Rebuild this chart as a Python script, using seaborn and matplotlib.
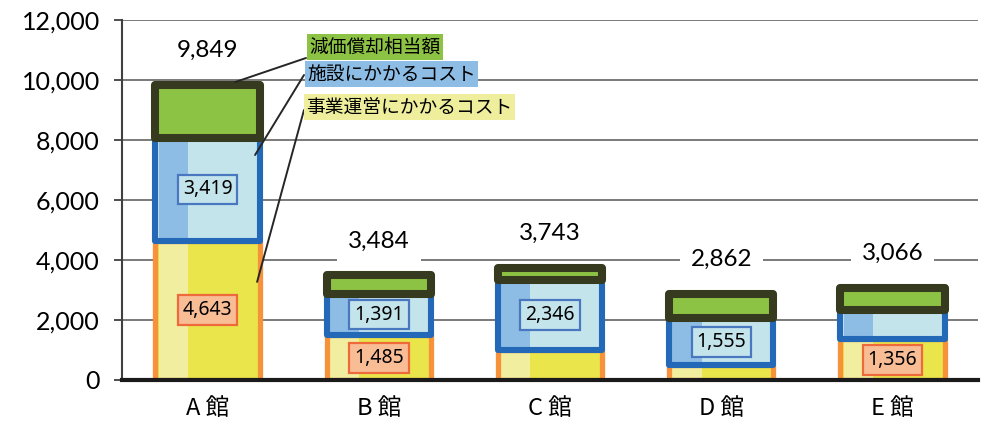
import numpy as np
import matplotlib
matplotlib.use("Agg")
import matplotlib.pyplot as plt
import seaborn as sns

# ---- data ----
facilities = ["A 館", "B 館", "C 館", "D 館", "E 館"]
operating_cost = [4643, 1485, 1000, 500, 1356]   # 事業運営にかかるコスト
facility_cost = [3419, 1391, 2346, 1555, 980]    # 施設にかかるコスト
depreciation = [1787, 608, 397, 807, 730]        # 減価償却相当額
totals = [9849, 3484, 3743, 2862, 3066]
show_facility_label = [True, True, True, True, False]
show_operating_label = [True, True, False, False, True]
series_names = ["減価償却相当額", "施設にかかるコスト", "事業運営にかかるコスト"]

# ---- style ----
sns.set_theme(style="white")
plt.rcParams["font.family"] = ["Lato", "Noto Sans CJK JP", "DejaVu Sans"]
plt.rcParams["text.color"] = "black"
plt.rcParams["xtick.color"] = "black"
plt.rcParams["ytick.color"] = "black"

fig = plt.figure(figsize=(9.81, 4.30), dpi=100)
ax = fig.add_axes([0.1244, 0.1163, 0.8726, 0.8372])

bar_w = 0.61
x = np.arange(len(facilities))
op = np.array(operating_cost)
fac = np.array(facility_cost)
dep = np.array(depreciation)

# segment: (heights, bottoms, main face, left strip, edge, edge width)
segments = [
    (op, np.zeros(5), "#E9E54B", "#F1EEA0", "#F7923A", 3.8),
    (fac, op, "#C4E4EC", "#8DBCE5", "#2369B7", 4.4),
    (dep, op + fac, "#8DC344", None, "#363A1F", 5.8),
]

for heights, bottoms, face, strip, edge, lw in segments:
    sns.barplot(x=facilities, y=heights, bottom=bottoms, color=face,
                saturation=1, width=bar_w, linewidth=0, errorbar=None,
                ax=ax, zorder=2)
    if strip is not None:
        ax.bar(x - bar_w / 2 + 0.02, heights, bottom=bottoms, width=0.17,
               align="edge", color=strip, linewidth=0, zorder=2.1)
    sns.barplot(x=facilities, y=heights, bottom=bottoms, fill=False,
                color=edge, saturation=1, width=bar_w, linewidth=lw,
                errorbar=None, ax=ax, zorder=2.2)
    for p in ax.patches[-5:]:
        p.set_joinstyle("round")

# value boxes inside segments
num_font = ["Noto Sans", "DejaVu Sans"]
for i in range(5):
    if show_facility_label[i]:
        ax.text(i, op[i] + fac[i] / 2, f"{fac[i]:,}", ha="center", va="center",
                fontsize=14, zorder=4, family=num_font,
                bbox=dict(boxstyle="square,pad=0.25", fc="#C4E4EC", ec="#4A78C0", lw=1.6))
    if show_operating_label[i]:
        ax.text(i, op[i] / 2, f"{op[i]:,}", ha="center", va="center",
                fontsize=14, zorder=4, family=num_font,
                bbox=dict(boxstyle="square,pad=0.25", fc="#F9BD96", ec="#EE6A3A", lw=1.6))
    # totals above the bars
    ax.text(i, totals[i] + 1150, f"{totals[i]:,}", ha="center", va="center",
            fontsize=17.5, zorder=4,
            bbox=dict(boxstyle="square,pad=0.45", fc="white", ec="none"))

# legend labels with leader lines to bar A
legend_pos = [(309, 383), (307, 356), (306, 323)]
legend_bg = ["#8DC344", "#8DBCE5", "#EEEE9C"]
line_start = [(306, 372), (304, 355), (304, 320)]
line_end = [(0.16, 9930), (0.277, 7500), (0.289, 3270)]
for name, pos, bg, st, en in zip(series_names, legend_pos, legend_bg, line_start, line_end):
    ax.annotate("", xy=en, xycoords="data", xytext=st, textcoords="figure pixels",
                arrowprops=dict(arrowstyle="-", color="#262626", lw=1.4,
                                shrinkA=0, shrinkB=0), zorder=5)
    ax.annotate(name, xy=pos, xycoords="figure pixels", va="center", ha="left",
                fontsize=13.5, family=["Noto Sans CJK JP"], zorder=5,
                bbox=dict(boxstyle="square,pad=0.12", fc=bg, ec="none"))

# axes
ax.set_ylim(0, 12000)
ax.set_xlim(-0.5, 4.5)
ax.set_yticks(np.arange(0, 12001, 2000))
ax.set_yticklabels([f"{v:,}" for v in range(0, 12001, 2000)], fontsize=18)
ax.set_xticks(x)
ax.set_xticklabels(facilities, fontsize=17, family=["Noto Sans CJK JP"])
ax.set_xlabel("")
ax.set_ylabel("")
ax.yaxis.grid(True, color="#7a7a7a", lw=1.4)
ax.set_axisbelow(True)
ax.tick_params(axis="y", left=True, length=6, width=1.3, color="#404040", pad=10)
ax.tick_params(axis="x", bottom=False, pad=6)
for s in ["top", "right"]:
    ax.spines[s].set_visible(False)
ax.spines["left"].set_color("#404040")
ax.spines["left"].set_linewidth(1.5)
ax.spines["bottom"].set_color("#1a1a1a")
ax.spines["bottom"].set_linewidth(3)
ax.spines["bottom"].set_zorder(3)

fig.savefig("out.png", dpi=100)
